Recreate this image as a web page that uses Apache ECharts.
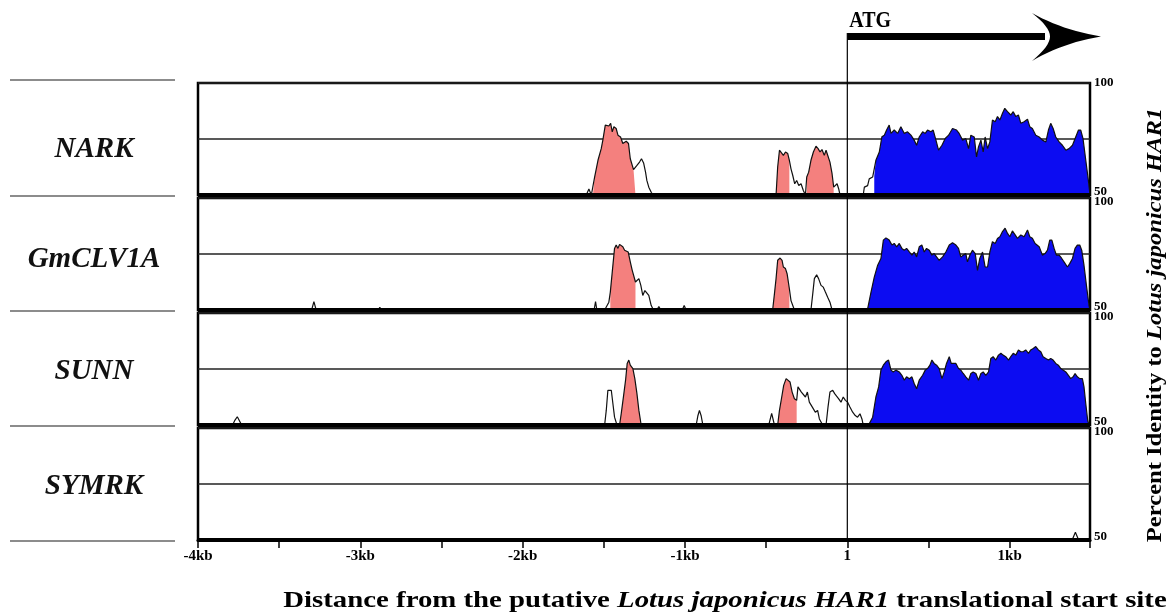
<!DOCTYPE html>
<html><head><meta charset="utf-8">
<script src="https://cdn.jsdelivr.net/npm/echarts@6/dist/echarts.min.js"></script>
<style>html,body{margin:0;padding:0;background:#fff}#c{width:1172px;height:615px}</style>
</head><body><div id="c"></div>
<script>
// ---------- data ----------
const genes = ['NARK', 'GmCLV1A', 'SUNN', 'SYMRK'];
const xTickValues = [-4000, -3000, -2000, -1000, 0, 1000];
const xTickLabels = ['-4kb', '-3kb', '-2kb', '-1kb', '1', '1kb'];
const yTickLabels = ['50', '100'];

const narkIdentity = [
[-4000,50],[-1608,50],[-1592,52.7],[-1577,50],[-1567,50],[-1557,57.9],[-1536,65.5],[-1516,70.7],[-1506,74.5],[-1491,81.2],[-1481,82],[-1469,80.8],[-1458,82],[-1448,78.2],[-1438,80.5],[-1424,79.7],[-1413,76.7],[-1397,75.9],[-1383,73],[-1362,74],[-1348,73],[-1337,66.2],[-1325,65.5],[-1317,61.3],[-1305,61.5],[-1296,63.2],[-1280,64.7],[-1268,66.2],[-1255,64.3],[-1243,60.2],[-1235,56.5],[-1223,53.5],[-1208,51.2],[-1198,50],
[-439,50],[-429,62.5],[-418,70],[-408,70.7],[-394,67.7],[-381,69.2],[-367,68.5],[-357,65.5],[-347,61.7],[-336,58.7],[-324,55],[-312,56.5],[-299,54.2],[-285,55],[-271,52],[-258,50],[-250,58],[-238,60.2],[-224,65.5],[-209,69.2],[-193,71.8],[-180,70.7],[-168,69.2],[-156,70.3],[-142,67.7],[-131,70],[-119,69.2],[-107,64.7],[-94,59.5],[-84,53.5],[-74,53.8],[-63,55],[-53,52.7],[-45,50],
[98,50],[105,53.5],[125,54.2],[135,57.2],[156,58],[166,58.5],[176,65.5],[197,69.2],[213,76],[228,76.7],[242,79],[258,81.2],[269,77.5],[289,79],[310,77.5],[330,80.5],[351,77.5],[371,78.2],[392,76.7],[412,74.5],[427,72.2],[443,75.9],[464,78.2],[480,77.5],[494,79],[515,78.2],[529,79],[546,74.5],[562,70],[583,72.2],[603,75.2],[624,76.7],[648,79.7],[673,79],[689,77.5],[710,74.5],[730,75.2],[747,70.7],[761,76.7],[782,75.9],[796,67],[808,71.5],[823,74.5],[837,69.2],[849,75.9],[864,70.7],[878,73.7],[894,83.5],[911,82.7],[925,85],[940,83.5],[956,86.5],[970,88.7],[987,87.2],[1007,85.7],[1022,87.2],[1038,85],[1054,85.7],[1069,82],[1089,82.7],[1110,83.8],[1124,80.5],[1140,79.7],[1161,76.7],[1182,75.9],[1202,74.5],[1223,73.7],[1239,79],[1253,82],[1268,79.7],[1284,75.9],[1305,73.7],[1325,72.2],[1346,70],[1366,70.7],[1387,72.2],[1407,75.9],[1424,79],[1438,79],[1452,75.2],[1469,65.5],[1485,56.5],[1495,50]
];
const gmclv1aIdentity = [
[-4000,50],[-3300,50],[-3286,53.7],[-3272,50],[-2890,50],[-2880,51.2],[-2870,50],[-2725,50],[-2716,50.6],[-2707,50],[-1560,50],[-1551,53.7],[-1543,50],[-1495,50],[-1469,53.5],[-1460,58],[-1448,67],[-1434,77.5],[-1424,79],[-1413,77.5],[-1403,79.3],[-1393,79.3],[-1383,78.2],[-1372,76.7],[-1362,77.2],[-1350,75.9],[-1337,71.5],[-1325,67.7],[-1305,62.5],[-1296,61.7],[-1284,64],[-1272,61],[-1260,56.5],[-1247,58.7],[-1235,58.7],[-1223,56.5],[-1208,52],[-1194,50],[-1173,50],[-1161,51.6],[-1149,50],[-1017,50],[-1005,52],[-993,50],
[-460,50],[-449,57.2],[-439,64],[-429,72.2],[-414,73.2],[-402,72.2],[-394,69.2],[-381,68.5],[-371,66.2],[-357,59.5],[-347,54.2],[-336,52],[-326,50],
[-224,50],[-213,57.2],[-203,64],[-189,65.7],[-177,64],[-162,61],[-148,60.2],[-135,58],[-121,55.7],[-107,53.5],[-94,50],
[125,50.5],[146,58],[166,64.7],[187,70],[207,73],[222,81.2],[238,82.2],[258,81.2],[275,79],[289,79.7],[304,78.2],[320,79.7],[336,77.5],[351,76.7],[365,77.5],[382,75.9],[398,74.5],[412,75.9],[427,73.7],[443,78.2],[459,79],[474,75.9],[488,77.5],[505,76.7],[521,74.5],[535,75.2],[550,73.7],[566,72.2],[587,73.7],[607,75.9],[628,79],[648,80],[669,79],[685,77.5],[699,73.7],[714,74.5],[730,75.2],[740,71.5],[755,74.5],[771,76.7],[788,75.2],[802,67.7],[816,73],[833,75.9],[849,69.2],[864,69.2],[878,75.9],[894,80.5],[911,79.7],[925,81.9],[940,82.7],[956,85],[972,86.5],[987,84.2],[1001,82.7],[1017,85.3],[1034,83.5],[1048,82],[1069,83.5],[1089,82.7],[1110,85.7],[1124,82.7],[1140,82],[1157,79.7],[1182,78.2],[1202,74.5],[1218,75.2],[1233,76.7],[1247,81.2],[1260,81.2],[1274,77.5],[1288,74.5],[1305,74.5],[1321,73],[1335,71.5],[1356,69.2],[1370,70.7],[1387,73],[1403,77.5],[1417,79],[1432,79],[1444,76.7],[1458,70],[1473,61],[1489,52],[1495,50]
];
const sunnIdentity = [
[-4000,50],[-3787,50],[-3772,52.2],[-3758,53.7],[-3746,53.1],[-3731,50],
[-1495,50],[-1485,56.5],[-1475,65.5],[-1465,66.2],[-1454,65.5],[-1444,59.5],[-1434,53.5],[-1419,50],
[-1403,50],[-1393,55],[-1378,63.2],[-1366,70],[-1356,77.5],[-1346,79],[-1337,76.7],[-1329,77.5],[-1321,75.2],[-1309,70.7],[-1296,64],[-1284,56.5],[-1270,50],
[-931,50],[-921,54],[-911,56.5],[-900,54],[-890,50],
[-484,50],[-466,55.2],[-449,50],
[-429,50],[-418,56.5],[-404,62.5],[-392,67.7],[-377,70.7],[-365,71.5],[-353,69.2],[-340,64.7],[-326,61.7],[-312,61],[-304,67],[-295,67.3],[-283,64.7],[-271,65.5],[-258,62.5],[-246,64.7],[-234,60.2],[-222,60.9],[-209,57.2],[-197,55.7],[-183,56.5],[-172,52.7],[-152,50],[-131,50],[-119,58],[-107,64.7],[-90,65.5],[-78,64],[-66,64.7],[-53,61.7],[-39,60.2],[-25,62.5],[-12,61],[2,60.2],[16,58],[33,55.7],[49,54.2],[63,53.5],[78,55],[90,52.7],[98,50],
[135,50.5],[156,53.5],[176,62.5],[193,67],[207,74.5],[222,76.7],[238,78.2],[254,79],[269,74.5],[283,73.7],[299,74.5],[320,73.7],[336,72.2],[351,70],[365,71.5],[382,70.7],[398,71.5],[412,68.5],[427,66.2],[443,70],[464,72.2],[480,74.5],[494,75.2],[509,76.7],[521,79],[535,77.5],[550,76.7],[566,75.2],[583,70.7],[597,73.7],[611,77.5],[628,80.5],[640,77.5],[652,76.7],[669,77.5],[685,75.2],[699,74.5],[714,73],[730,71.5],[747,70],[761,73],[775,73.7],[792,73],[808,70],[823,73],[837,73.7],[853,72.2],[870,73.7],[884,79.7],[898,80.5],[915,79],[931,81.2],[946,82],[960,81.2],[976,80.5],[993,79],[1007,80.5],[1022,82],[1038,81.2],[1054,83.5],[1069,82.7],[1083,82.7],[1099,83.5],[1116,82],[1130,83.5],[1145,84.2],[1161,85],[1177,83.5],[1192,82.7],[1206,80.5],[1223,79.7],[1239,79],[1253,79.7],[1268,79],[1284,77.5],[1300,76.7],[1315,75.2],[1329,74.5],[1346,73.7],[1362,72.2],[1376,70.7],[1391,71.5],[1403,73],[1417,71.5],[1432,70.7],[1448,70.7],[1458,67],[1469,59.5],[1481,52],[1489,50],[1495,50]
];
const symrkIdentity = [[-4000,50],[1385,50],[1405,53.5],[1425,50],[1495,50]];

// conserved non-coding (pink) and exon (blue) ranges, bp
const narkCNS = [[-1567,-1305],[-439,-357],[-250,-84]];
const gmclv1aCNS = [[-1460,-1305],[-460,-357]];
const sunnCNS = [[-1403,-1270],[-429,-312]];
const symrkCNS = [];
const narkExon = [[166,1495]];
const gmclv1aExon = [[125,1495]];
const sunnExon = [[135,1495]];
const symrkExon = [];

const identities = [narkIdentity, gmclv1aIdentity, sunnIdentity, symrkIdentity];
const cnsRanges = [narkCNS, gmclv1aCNS, sunnCNS, symrkCNS];
const exonRanges = [narkExon, gmclv1aExon, sunnExon, symrkExon];

// ---------- chart ----------
const SERIF = '"Liberation Serif", "Times New Roman", serif';
const PINK = '#f4807e', BLUE = '#0c0cf2';
const X_MIN = -4000, X_MAX = 1495;
const chart = echarts.init(document.getElementById('c'), null, {renderer: 'canvas'});

const grids = [], xAxes = [], yAxes = [], series = [];
genes.forEach((g, i) => {
  const last = i === genes.length - 1;
  grids.push({left: 198, right: 82, top: 83 + 115 * i, height: 112,
    show: true, borderColor: '#000', borderWidth: 2.5, backgroundColor: 'transparent'});
  xAxes.push({type: 'value', gridIndex: i, min: X_MIN, max: X_MAX, interval: 500,
    axisLine: {show: last, onZero: false, lineStyle: {color: '#000', width: 3}},
    axisTick: {show: last, length: 8, lineStyle: {color: '#000', width: 1.5}},
    splitLine: {show: false},
    axisLabel: {show: last, margin: 9, color: '#000', fontFamily: SERIF, fontWeight: 'bold', fontSize: 15,
      formatter: v => { const k = xTickValues.indexOf(v); return k >= 0 ? xTickLabels[k] : ''; }}
  });
  yAxes.push({type: 'value', gridIndex: i, min: 50, max: 100, interval: 25, position: 'right',
    axisLine: {show: false}, axisTick: {show: false},
    splitLine: {show: true, lineStyle: {color: '#222', width: 1.5}},
    axisLabel: {show: true, margin: 4, color: '#000',
      formatter: v => v === 100 ? (i === 0 ? '{n|' + yTickLabels[1] + '}' : '{t|' + yTickLabels[1] + '}')
                    : v === 50 ? '{b|' + yTickLabels[0] + '}' : '',
      rich: {
        n: {fontFamily: SERIF, fontWeight: 'bold', fontSize: 13, color: '#000'},
        t: {fontFamily: SERIF, fontWeight: 'bold', fontSize: 13, color: '#000', padding: [7, 0, 0, 0]},
        b: {fontFamily: SERIF, fontWeight: 'bold', fontSize: 13, color: '#000', padding: [0, 0, 7, 0]}
      }}
  });
  const pts = identities[i];
  const addFill = (ranges, color) => ranges.forEach(r => {
    series.push({type: 'line', xAxisIndex: i, yAxisIndex: i, z: 2, silent: true,
      symbol: 'none', lineStyle: {width: 0, opacity: 0},
      areaStyle: {color: color, opacity: 1, origin: 'start'},
      data: pts.filter(p => p[0] >= r[0] && p[0] <= r[1])});
  });
  addFill(cnsRanges[i], PINK);
  addFill(exonRanges[i], BLUE);
  series.push({name: g, type: 'line', xAxisIndex: i, yAxisIndex: i, z: 3, silent: true,
    symbol: 'none', lineStyle: {color: '#111', width: 1.2}, data: pts,
    markLine: {silent: true, symbol: ['none', 'none'], label: {show: false},
      lineStyle: {color: '#000', width: 4, type: 'solid'}, data: [{yAxis: 50}]}});
});

chart.setOption({animation: false, backgroundColor: '#fff',
  grid: grids, xAxis: xAxes, yAxis: yAxes, series: series});

// ---------- decorations placed via the chart's own scales ----------
const xAtg = chart.convertToPixel({xAxisIndex: 0}, 0);
const yBottom = chart.convertToPixel({yAxisIndex: 3}, 50);
const panelTop = genes.map((g, i) => chart.convertToPixel({yAxisIndex: i}, 100));
const panelBot = genes.map((g, i) => chart.convertToPixel({yAxisIndex: i}, 50));
const labelY = [150, 260, 372, 487];

function quad(p0, c, p1, n) {
  const out = [];
  for (let k = 0; k <= n; k++) {
    const t = k / n, a = (1 - t) * (1 - t), b = 2 * (1 - t) * t, d = t * t;
    out.push([a * p0[0] + b * c[0] + d * p1[0], a * p0[1] + b * c[1] + d * p1[1]]);
  }
  return out;
}
const headPts = [].concat(
  quad([1032, 13], [1062, 30], [1101, 36.5], 12),
  quad([1101, 36.5], [1062, 43], [1032, 61], 12).slice(1),
  quad([1032, 61], [1050, 46], [1050, 36.5], 8).slice(1),
  quad([1050, 36.5], [1050, 27], [1032, 13], 8).slice(1, -1)
);

const graphic = [];
const sepYs = [panelTop[0] - 3].concat(panelBot.map(y => y + 1));
sepYs.forEach(y => graphic.push({type: 'line', silent: true,
  shape: {x1: 10, y1: y, x2: 175, y2: y}, style: {stroke: '#666', lineWidth: 1.5}}));
genes.forEach((g, i) => graphic.push({type: 'text', silent: true, x: 94, y: labelY[i],
  style: {text: g, align: 'center', verticalAlign: 'middle', fill: '#111',
    font: 'italic bold 29px ' + SERIF}}));
graphic.push({type: 'line', silent: true, z: 10,
  shape: {x1: xAtg, y1: 33, x2: xAtg, y2: yBottom}, style: {stroke: '#000', lineWidth: 1.2}});
graphic.push({type: 'rect', silent: true, shape: {x: xAtg, y: 33, width: 1045 - xAtg, height: 7},
  style: {fill: '#000'}});
graphic.push({type: 'polygon', silent: true, shape: {points: headPts}, style: {fill: '#000'}});
graphic.push({type: 'text', silent: true, x: xAtg + 2, y: 21, scaleY: 1.15,
  style: {text: 'ATG', align: 'left', verticalAlign: 'middle', fill: '#000', font: 'bold 20px ' + SERIF}});
graphic.push({type: 'text', silent: true, x: 725, y: 601, scaleX: 1.2,
  style: {text: '{b|Distance from the putative }{i|Lotus japonicus HAR1}{b| translational start site}',
    align: 'center', verticalAlign: 'middle',
    rich: {b: {fontFamily: SERIF, fontWeight: 'bold', fontSize: 24, fill: '#000'},
           i: {fontFamily: SERIF, fontWeight: 'bold', fontStyle: 'italic', fontSize: 24, fill: '#000'}}}});
graphic.push({type: 'text', silent: true, x: 1156, y: 325, rotation: Math.PI / 2, scaleX: 1.17,
  style: {text: '{b|Percent Identity to }{i|Lotus japonicus HAR1}',
    align: 'center', verticalAlign: 'middle',
    rich: {b: {fontFamily: SERIF, fontWeight: 'bold', fontSize: 21, fill: '#000'},
           i: {fontFamily: SERIF, fontWeight: 'bold', fontStyle: 'italic', fontSize: 21, fill: '#000'}}}});

chart.setOption({graphic: graphic});
</script>
</body></html>
